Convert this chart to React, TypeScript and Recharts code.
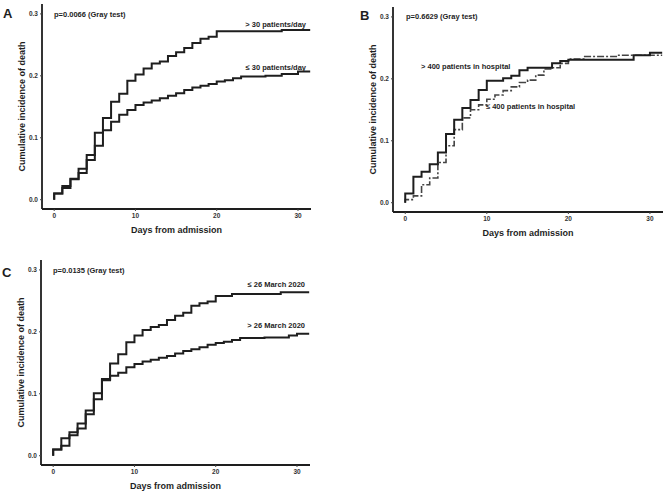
import { LineChart, Line, XAxis, YAxis } from 'recharts';

// days at which each cumulative incidence step starts
const days = Array.from({ length: 31 }, (_, i) => i);
const endDay = 31.5;

const xTicks = [0, 10, 20, 30];
const yTicks = [0, 0.1, 0.2, 0.3];

// Panel A: admissions per day
const overThirty = [
  0.01, 0.022, 0.034, 0.05, 0.072, 0.108, 0.132, 0.158, 0.171, 0.192, 0.202,
  0.212, 0.22, 0.223, 0.232, 0.238, 0.245, 0.253, 0.26, 0.263, 0.272,
  0.272, 0.272, 0.272, 0.272, 0.272, 0.272, 0.272, 0.274, 0.274, 0.274
];
const upToThirty = [
  0.01, 0.019, 0.033, 0.043, 0.064, 0.087, 0.112, 0.126, 0.137, 0.145, 0.153,
  0.157, 0.16, 0.164, 0.168, 0.172, 0.177, 0.181, 0.184, 0.187, 0.191,
  0.193, 0.196, 0.199, 0.199, 0.199, 0.2, 0.2, 0.203, 0.203, 0.207
];

// Panel B: patients in hospital
const overFourHundred = [
  0.015, 0.042, 0.05, 0.062, 0.081, 0.111, 0.134, 0.153, 0.166, 0.182, 0.197,
  0.197, 0.201, 0.205, 0.214, 0.218, 0.218, 0.218, 0.225, 0.229, 0.231,
  0.231, 0.231, 0.231, 0.231, 0.231, 0.231, 0.231, 0.238, 0.238, 0.242
];
const upToFourHundred = [
  0.005, 0.011, 0.029, 0.04, 0.065, 0.092, 0.118, 0.137, 0.15, 0.158, 0.167,
  0.174, 0.181, 0.187, 0.194, 0.198, 0.206, 0.216, 0.218, 0.225, 0.232,
  0.232, 0.236, 0.236, 0.236, 0.236, 0.238, 0.238, 0.238, 0.238, 0.238
];

// Panel C: admission date
const beforeMarch26 = [
  0.01, 0.028, 0.038, 0.052, 0.073, 0.101, 0.124, 0.149, 0.164, 0.183, 0.194,
  0.203, 0.208, 0.211, 0.219, 0.226, 0.231, 0.242, 0.246, 0.249, 0.258,
  0.258, 0.261, 0.261, 0.261, 0.261, 0.261, 0.261, 0.264, 0.264, 0.264
];
const afterMarch26 = [
  0.01, 0.016, 0.033, 0.044, 0.067, 0.091, 0.122, 0.129, 0.134, 0.143, 0.148,
  0.152, 0.155, 0.158, 0.161, 0.165, 0.169, 0.172, 0.175, 0.179, 0.182,
  0.184, 0.187, 0.19, 0.19, 0.19, 0.191, 0.191, 0.191, 0.194, 0.197
];

function buildRows(a: number[], b: number[]) {
  const rows = [{ day: 0, a: 0, b: 0 }];
  days.forEach((d, i) => rows.push({ day: d, a: a[i], b: b[i] }));
  rows.push({ day: endDay, a: a[a.length - 1], b: b[b.length - 1] });
  return rows;
}

const ink = '#1e1e1e';
const font = '"Liberation Sans", Arial, sans-serif';

type PanelProps = {
  left: number;
  top: number;
  plotW: number;
  plotH: number;
  rows: { day: number; a: number; b: number }[];
  dashB?: boolean;
};

const yAxisW = 40;
const xAxisH = 36;
const topPad = 5;

function Panel({ left, top, plotW, plotH, rows, dashB }: PanelProps) {
  return (
    <div style={{ position: 'absolute', left: left - yAxisW, top: top - topPad }}>
      <LineChart
        width={yAxisW + plotW}
        height={topPad + plotH + xAxisH}
        data={rows}
        margin={{ top: topPad, right: 0, bottom: 0, left: 0 }}
      >
        <XAxis
          dataKey="day"
          type="number"
          domain={[-1.5, 31.6]}
          ticks={xTicks}
          allowDataOverflow
          height={xAxisH}
          tickSize={2}
          axisLine={{ stroke: ink, strokeWidth: 1.8 }}
          tickLine={{ stroke: '#444' }}
          tick={{ fill: '#333', fontSize: 6.5, fontWeight: 700, fontFamily: font }}
          label={{
            value: 'Days from admission',
            position: 'center',
            dy: 3,
            fill: ink,
            fontSize: 9,
            fontWeight: 700,
            fontFamily: font
          }}
        />
        <YAxis
          type="number"
          domain={[-0.015, 0.316]}
          ticks={yTicks}
          allowDataOverflow
          width={yAxisW}
          tickSize={2}
          tickFormatter={(v: number) => v.toFixed(1)}
          axisLine={{ stroke: ink, strokeWidth: 1.8 }}
          tickLine={{ stroke: '#444' }}
          tick={{ fill: '#333', fontSize: 6.5, fontWeight: 700, fontFamily: font }}
          label={{
            value: 'Cumulative incidence of death',
            angle: -90,
            position: 'center',
            fill: ink,
            fontSize: 9,
            fontWeight: 700,
            fontFamily: font
          }}
        />
        <Line
          dataKey="b"
          type="stepAfter"
          stroke={dashB ? '#444' : ink}
          strokeWidth={dashB ? 1.6 : 2}
          strokeDasharray={dashB ? '7 2 2 2' : undefined}
          dot={false}
          isAnimationActive={false}
        />
        <Line
          dataKey="a"
          type="stepAfter"
          stroke={ink}
          strokeWidth={2}
          dot={false}
          isAnimationActive={false}
        />
      </LineChart>
    </div>
  );
}

function Txt({
  x,
  y,
  children,
  size = 7.5,
  right
}: {
  x: number;
  y: number;
  children: string;
  size?: number;
  right?: boolean;
}) {
  return (
    <div
      style={{
        position: 'absolute',
        top: y - 6,
        lineHeight: '12px',
        fontSize: size,
        fontWeight: 700,
        fontFamily: font,
        color: ink,
        whiteSpace: 'nowrap',
        ...(right ? { right: 666 - x } : { left: x })
      }}
    >
      {children}
    </div>
  );
}

export default function App() {
  return (
    <div
      style={{
        position: 'absolute',
        left: 0,
        top: 0,
        width: 666,
        height: 491,
        background: '#fff',
        overflow: 'hidden'
      }}
    >
      <Panel left={42} top={4} plotW={269} plotH={205} rows={buildRows(overThirty, upToThirty)} />
      <Panel left={393} top={7} plotW={270} plotH={205} rows={buildRows(overFourHundred, upToFourHundred)} dashB />
      <Panel left={41} top={260} plotW={269} plotH={205} rows={buildRows(beforeMarch26, afterMarch26)} />

      <Txt x={3} y={14} size={13}>A</Txt>
      <Txt x={360} y={16} size={13}>B</Txt>
      <Txt x={2} y={273} size={13}>C</Txt>

      <Txt x={54} y={15}>p=0.0066 (Gray test)</Txt>
      <Txt x={406} y={17}>p=0.6629 (Gray test)</Txt>
      <Txt x={53} y={271}>p=0.0135 (Gray test)</Txt>

      <Txt x={306} y={25} right>{'> 30 patients/day'}</Txt>
      <Txt x={306} y={68} right>{'≤ 30 patients/day'}</Txt>
      <Txt x={421} y={67}>{'> 400 patients in hospital'}</Txt>
      <Txt x={486} y={107}>{'≤ 400 patients in hospital'}</Txt>
      <Txt x={305} y={285} right>{'≤ 26 March 2020'}</Txt>
      <Txt x={305} y={326} right>{'> 26 March 2020'}</Txt>
    </div>
  );
}
